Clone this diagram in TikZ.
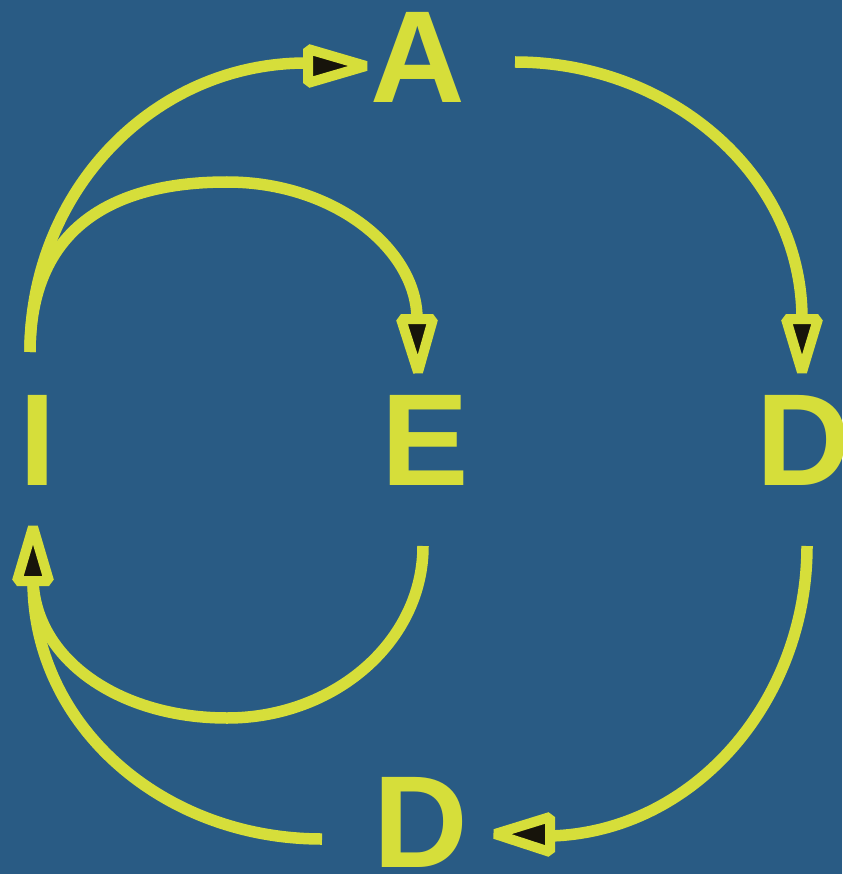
\documentclass[tikz,border=0pt]{standalone}
\usepackage{fontspec}
\setmainfont{Liberation Sans}
\definecolor{bg}{RGB}{41,91,132}
\definecolor{yel}{RGB}{214,222,58}
\definecolor{dk}{RGB}{23,20,11}
\tikzset{
  letter/.style={text=yel, inner sep=0pt, outer sep=0pt, font=\fontsize{131}{131}\selectfont\bfseries},
  conn/.style={draw=yel, line width=11.5pt, line cap=butt},
  ahead/.style={draw=yel, fill=dk, line width=10pt, line join=bevel}
}
\begin{document}
\begin{tikzpicture}[x=1pt,y=-1pt]
\fill[bg] (0,0) rectangle (842,874);
\useasboundingbox (0,0) rectangle (842,874);
% letters
\node[letter] (A) at (417.5,57.5) {A};
\node[letter] (I) at (38,440.5) {I};
\node[letter] (E) at (425.5,440.5) {E};
\node[letter] (D1) at (804,440.5) {D};
\node[letter] (D2) at (421,822.5) {D};
% connector end points
\coordinate (iTop) at (30,352);
\coordinate (iBot) at (33,581);
\coordinate (aIn) at (308,63);
\coordinate (aOut) at (515,62);
\coordinate (eIn) at (417,319);
\coordinate (eOut) at (423,546);
\coordinate (d1In) at (802,319);
\coordinate (d1Out) at (807,546);
\coordinate (d2In) at (550,836);
\coordinate (d2Out) at (322,839);
% connectors
\draw[conn] (iTop) .. controls (30,192) and (153,62) .. (aIn);
\draw[conn] (iTop) .. controls (30,230) and (110,182) .. (227,182) .. controls (335,182) and (417,250) .. (eIn);
\draw[conn] (aOut) .. controls (670,62) and (802,175) .. (d1In);
\draw[conn] (d1Out) .. controls (807,700) and (695,832) .. (d2In);
\draw[conn] (d2Out) .. controls (162,839) and (33,725) .. (iBot);
\draw[conn] (eOut) .. controls (423,641) and (335,718) .. (227,718) .. controls (120,718) and (36,660) .. (iBot);
% arrowheads
\filldraw[ahead] (308,49) -- (308,83) -- (366,66) -- cycle;
\filldraw[ahead] (401,319) -- (433,319) -- (418,372) -- cycle;
\filldraw[ahead] (786,319) -- (818,319) -- (802,372) -- cycle;
\filldraw[ahead] (17,581) -- (49,581) -- (33,527) -- cycle;
\filldraw[ahead] (550,817) -- (550,852) -- (495,834) -- cycle;
\end{tikzpicture}
\end{document}
